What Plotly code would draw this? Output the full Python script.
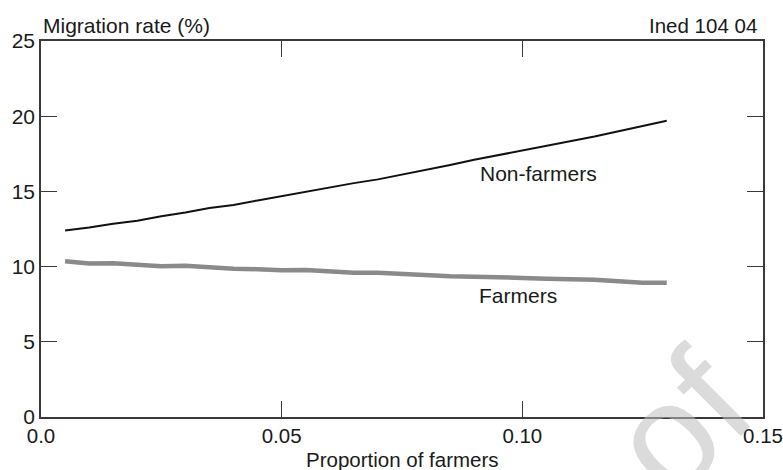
import plotly.graph_objects as go

# Data
proportion = [0.005, 0.010, 0.015, 0.020, 0.025, 0.030, 0.035, 0.040, 0.045, 0.050,
              0.055, 0.060, 0.065, 0.070, 0.075, 0.080, 0.085, 0.090, 0.095, 0.100,
              0.105, 0.110, 0.115, 0.120, 0.125, 0.130]
non_farmers = [12.4, 12.6, 12.85, 13.05, 13.35, 13.6, 13.9, 14.1, 14.4, 14.7,
               14.95, 15.25, 15.55, 15.8, 16.1, 16.45, 16.75, 17.1, 17.4, 17.7,
               18.0, 18.35, 18.65, 19.0, 19.35, 19.7]
farmers = [10.35, 10.2, 10.22, 10.12, 10.03, 10.05, 9.95, 9.86, 9.83, 9.75,
           9.77, 9.68, 9.59, 9.59, 9.5, 9.42, 9.36, 9.33, 9.32, 9.25,
           9.2, 9.18, 9.13, 9.03, 8.93, 8.93]

x_ticks = [0.0, 0.05, 0.10, 0.15]
x_tick_labels = ["0.0", "0.05", "0.10", "0.15"]
y_ticks = [0, 5, 10, 15, 20, 25]
y_tick_labels = ["0", "5", "10", "15", "20", "25"]

FONT = "Liberation Sans, Arial, Helvetica, sans-serif"
AX = "#3a3a3a"

fig = go.Figure()
fig.add_trace(go.Scatter(x=proportion, y=farmers, mode="lines", name="Farmers",
                         line=dict(color="#8a8a8a", width=4.5)))
fig.add_trace(go.Scatter(x=proportion, y=non_farmers, mode="lines", name="Non-farmers",
                         line=dict(color="#111111", width=2)))

fig.update_layout(
    width=783, height=470, autosize=False,
    margin=dict(l=41, r=20, t=41, b=53),
    paper_bgcolor="white", plot_bgcolor="white",
    showlegend=False,
    font=dict(family=FONT, size=21, color="#1a1a1a"),
    xaxis=dict(range=[0, 0.15], tickvals=x_ticks, ticktext=x_tick_labels,
               showgrid=False, zeroline=False, showline=True, linecolor=AX, linewidth=1.5,
               mirror="ticks", ticks="inside", ticklen=16, tickwidth=1.3, tickcolor=AX,
               tickfont=dict(size=20.5), automargin=False, ticklabeloverflow="allow"),
    yaxis=dict(range=[0, 25], tickvals=y_ticks, ticktext=y_tick_labels,
               showgrid=False, zeroline=False, showline=True, linecolor=AX, linewidth=1.5,
               mirror="ticks", ticks="inside", ticklen=16, tickwidth=1.3, tickcolor=AX,
               tickfont=dict(size=21), automargin=False, ticklabeloverflow="allow"),
    annotations=[
        dict(text="Migration rate (%)", xref="paper", yref="paper", x=0, y=1,
             xanchor="left", yanchor="bottom", yshift=2, showarrow=False, font=dict(size=21)),
        dict(text="Ined 104 04", xref="paper", yref="paper", x=1, y=1,
             xanchor="right", yanchor="bottom", xshift=-4, yshift=2, showarrow=False, font=dict(size=20.5)),
        dict(text="Proportion of farmers", xref="paper", yref="paper", x=0.5, y=0,
             xanchor="center", yanchor="top", yshift=-29, showarrow=False, font=dict(size=20.5)),
        dict(text="Non-farmers", x=0.1033, y=16.2, xref="x", yref="y",
             xanchor="center", yanchor="middle", showarrow=False, font=dict(size=21)),
        dict(text="Farmers", x=0.0991, y=8.1, xref="x", yref="y",
             xanchor="center", yanchor="middle", showarrow=False, font=dict(size=21)),
        dict(text="of", xref="paper", yref="paper", x=0.885, y=-0.015,
             xanchor="center", yanchor="middle", textangle=-45, showarrow=False,
             font=dict(size=150, color="rgba(190,190,190,0.55)")),
    ],
)

fig.write_html(
    "out.html",
    config={"displayModeBar": False},
    post_script="document.body.style.margin='0';document.body.style.padding='0';"
                "document.body.style.overflow='hidden';",
)
